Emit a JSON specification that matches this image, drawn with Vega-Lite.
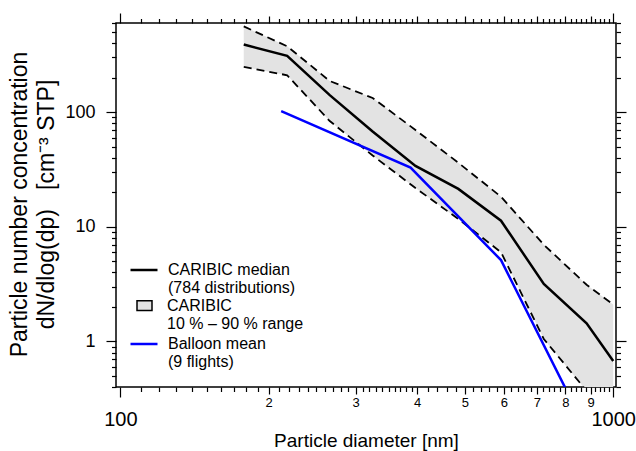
{
  "$schema": "https://vega.github.io/schema/vega-lite/v6.json",
  "width": 500,
  "height": 364,
  "autosize": {"type": "none"},
  "padding": {"left": 116, "top": 23, "right": 20, "bottom": 64},
  "background": "white",
  "config": {
    "view": {"stroke": "black", "strokeWidth": 1.5},
    "font": "Liberation Sans",
    "axis": {"domain": false, "grid": false, "tickColor": "black", "tickWidth": 1.2, "labelColor": "black", "titleColor": "black", "labelFont": "Liberation Sans", "titleFont": "Liberation Sans", "titleFontWeight": "normal", "labelOverlap": false, "labelBound": false, "labelFlush": false},
    "legend": {"labelFont": "Liberation Sans", "labelFontSize": 16, "labelColor": "black", "labelLimit": 0, "orient": "none", "padding": 0, "title": null}
  },
  "datasets": {
    "caribic": [
      {"d": 178, "median": 389, "p10": 249, "p90": 560},
      {"d": 218, "median": 310, "p10": 210, "p90": 376},
      {"d": 266, "median": 141, "p10": 83.7, "p90": 187},
      {"d": 325, "median": 67.8, "p10": 41.9, "p90": 133},
      {"d": 397, "median": 34.0, "p10": 21.8, "p90": 69.9},
      {"d": 485, "median": 21.4, "p10": 11.7, "p90": 36.2},
      {"d": 592, "median": 11.3, "p10": 6.0, "p90": 18.3},
      {"d": 723, "median": 3.17, "p10": 1.05, "p90": 6.97},
      {"d": 883, "median": 1.44, "p10": 0.37, "p90": 3.12},
      {"d": 1000, "median": 0.675, "p10": 0.25, "p90": 2.1}
    ],
    "balloon": [
      {"d": 212, "mean": 102},
      {"d": 388, "mean": 32.8},
      {"d": 592, "mean": 5.12},
      {"d": 800, "mean": 0.39}
    ]
  },
  "layer": [
    {
      "data": {"name": "caribic"},
      "mark": {"type": "area", "clip": true},
      "encoding": {
        "x": {"field": "d", "type": "quantitative", "scale": {"type": "log", "domain": [98, 1013]},
          "axis": {
            "orient": "bottom",
            "values": [100,110,120,130,140,150,160,170,180,190,200,210,220,230,240,250,260,270,280,290,300,310,320,330,340,350,360,370,380,390,400,420,440,460,480,500,520,540,560,580,600,620,640,660,680,700,720,740,760,780,800,820,840,860,880,900,920,940,960,980,1000],
            "labelExpr": "datum.value == 100 || datum.value == 1000 ? format(datum.value, 'd') : (datum.value % 100 == 0 ? format(datum.value / 100, 'd') : '')",
            "labelFontSize": {"condition": {"test": "datum.value == 100 || datum.value == 1000", "value": 20}, "value": 13},
            "labelPadding": {"condition": {"test": "datum.value == 100 || datum.value == 1000", "value": 12}, "value": 2},
            "tickSize": {"condition": [{"test": "datum.value == 100 || datum.value == 1000", "value": 10}, {"test": "datum.value % 100 == 0", "value": 7}], "value": 4.5},
            "title": "Particle diameter [nm]",
            "titleFontSize": 19,
            "titleY": 59,
            "titleBaseline": "alphabetic"
          }
        },
        "y": {"field": "p10", "type": "quantitative", "scale": {"type": "log", "domain": [0.4, 600]},
          "axis": {
            "orient": "left",
            "values": [0.4,0.5,0.6,0.7,0.8,0.9,1,2,3,4,5,6,7,8,9,10,20,30,40,50,60,70,80,90,100,200,300,400,500,600],
            "labelExpr": "datum.value == 1 || datum.value == 10 || datum.value == 100 ? format(datum.value, 'd') : ''",
            "labelFontSize": 18,
            "labelPadding": 11,
            "tickSize": {"condition": {"test": "datum.value == 1 || datum.value == 10 || datum.value == 100", "value": 10}, "value": 4.5},
            "title": ["Particle number concentration", "dN/dlog(dp)\u00a0\u00a0\u00a0[cm⁻³ STP]"],
            "titleFontSize": 23,
            "titleLineHeight": 27,
            "titleAngle": -90,
            "titleX": -85,
            "titleY": 181,
            "titleAlign": "center",
            "titleBaseline": "bottom"
          }
        },
        "y2": {"field": "p90"},
        "fill": {"datum": "CARIBIC|10 % – 90 % range", "scale": {"range": ["#e3e3e3"]},
          "legend": {"legendX": 20, "legendY": 274, "symbolType": "M-1,-0.65H1V0.65H-1Z", "symbolSize": 225, "symbolStrokeColor": "black", "symbolStrokeWidth": 1.5, "labelOffset": 14, "labelExpr": "split(datum.label, '|')"}
        }
      }
    },
    {
      "data": {"name": "caribic"},
      "mark": {"type": "line", "clip": true, "color": "black", "strokeDash": [8, 5], "strokeWidth": 1.8},
      "encoding": {
        "x": {"field": "d", "type": "quantitative", "scale": {"type": "log", "domain": [98, 1013]}, "axis": null},
        "y": {"field": "p90", "type": "quantitative", "scale": {"type": "log", "domain": [0.4, 600]}, "axis": null}
      }
    },
    {
      "data": {"name": "caribic"},
      "mark": {"type": "line", "clip": true, "color": "black", "strokeDash": [8, 5], "strokeWidth": 1.8},
      "encoding": {
        "x": {"field": "d", "type": "quantitative", "scale": {"type": "log", "domain": [98, 1013]}, "axis": null},
        "y": {"field": "p10", "type": "quantitative", "scale": {"type": "log", "domain": [0.4, 600]}, "axis": null}
      }
    },
    {
      "data": {"name": "caribic"},
      "mark": {"type": "line", "clip": true, "strokeWidth": 2.5},
      "encoding": {
        "x": {"field": "d", "type": "quantitative", "scale": {"type": "log", "domain": [98, 1013]},
          "axis": {
            "orient": "top",
            "values": [100,110,120,130,140,150,160,170,180,190,200,210,220,230,240,250,260,270,280,290,300,310,320,330,340,350,360,370,380,390,400,420,440,460,480,500,520,540,560,580,600,620,640,660,680,700,720,740,760,780,800,820,840,860,880,900,920,940,960,980,1000],
            "labels": false,
            "tickSize": {"condition": [{"test": "datum.value == 100 || datum.value == 1000", "value": 10}, {"test": "datum.value % 100 == 0", "value": 7}], "value": 4.5},
            "title": null
          }
        },
        "y": {"field": "median", "type": "quantitative", "scale": {"type": "log", "domain": [0.4, 600]},
          "axis": {
            "orient": "right",
            "values": [0.4,0.5,0.6,0.7,0.8,0.9,1,2,3,4,5,6,7,8,9,10,20,30,40,50,60,70,80,90,100,200,300,400,500,600],
            "labels": false,
            "tickSize": {"condition": {"test": "datum.value == 1 || datum.value == 10 || datum.value == 100", "value": 10}, "value": 4.5},
            "title": null
          }
        },
        "stroke": {"datum": "CARIBIC median|(784 distributions)", "scale": {"range": ["black"]},
          "legend": {"legendX": 13, "legendY": 232, "symbolType": "stroke", "symbolSize": 729, "symbolStrokeWidth": 2.5, "labelOffset": 9, "labelExpr": "split(datum.label, '|')"}
        }
      }
    },
    {
      "data": {"name": "balloon"},
      "mark": {"type": "line", "clip": true, "strokeWidth": 2.5},
      "encoding": {
        "x": {"field": "d", "type": "quantitative", "scale": {"type": "log", "domain": [98, 1013]}, "axis": null},
        "y": {"field": "mean", "type": "quantitative", "scale": {"type": "log", "domain": [0.4, 600]}, "axis": null},
        "color": {"datum": "Balloon mean|(9 flights)", "scale": {"range": ["#0000ff"]},
          "legend": {"legendX": 13, "legendY": 306, "symbolType": "stroke", "symbolSize": 729, "symbolStrokeWidth": 2.5, "labelOffset": 9, "labelExpr": "split(datum.label, '|')"}
        }
      }
    }
  ],
  "resolve": {"axis": {"x": "independent", "y": "independent"}}
}
